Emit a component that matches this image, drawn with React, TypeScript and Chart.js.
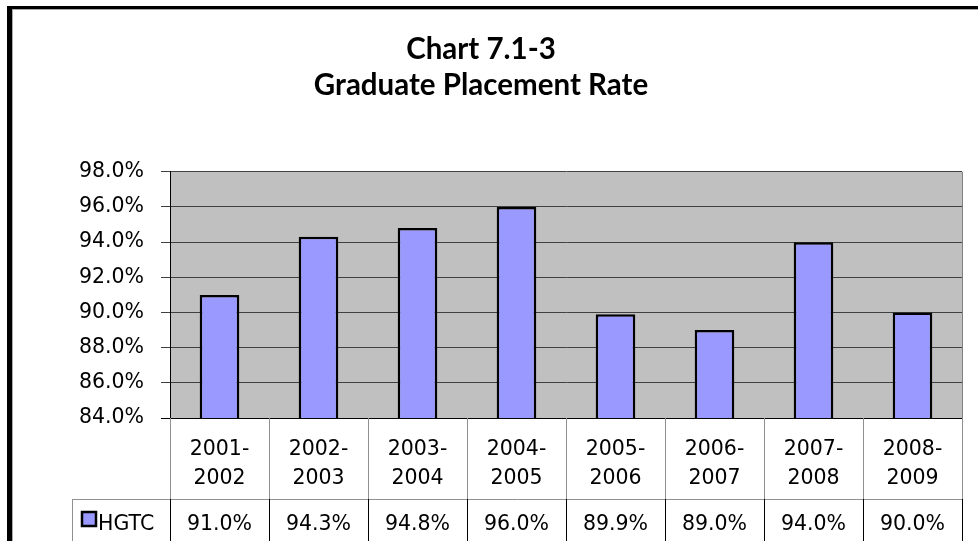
import React, { useEffect, useRef } from 'react';
import { Chart, registerables } from 'chart.js';

Chart.register(...registerables);

// ---- data ----
const titleLines = ['Chart 7.1-3', 'Graduate Placement Rate'];
const categories = ['2001-2002', '2002-2003', '2003-2004', '2004-2005', '2005-2006', '2006-2007', '2007-2008', '2008-2009'];
const seriesName = 'HGTC';
const placementRate = [91.0, 94.3, 94.8, 96.0, 89.9, 89.0, 94.0, 90.0];
const yMin = 84;
const yMax = 98;
const yStep = 2;

// ---- style ----
const BAR_FILL = '#9999FF';
const PLOT_BG = '#C0C0C0';
const FONT = '"DejaVu Sans", Verdana, sans-serif';
const FONT_SIZE = 20.5;

const fmtPct = (v: number) => v.toFixed(1) + '%';

const splitLabel = (s: string): string[] => {
  const i = s.indexOf('-');
  return i < 0 ? [s] : [s.slice(0, i + 1), s.slice(i + 1)];
};

const tablePlugin = {
  id: 'excelTable',
  beforeDraw(chart: any) {
    const { ctx, chartArea: a, width, height } = chart;
    ctx.save();
    ctx.fillStyle = '#ffffff';
    ctx.fillRect(0, 0, width, height);
    // outer frame (left and top visible)
    ctx.fillStyle = '#000000';
    ctx.fillRect(7, 6, 5, height - 6);
    ctx.fillRect(7, 6, width - 7, 3);
    ctx.fillStyle = '#a8a8a8';
    ctx.fillRect(12, 9, 1, height - 9);
    ctx.fillRect(12, 9, width - 12, 1);
    // plot area background
    ctx.fillStyle = PLOT_BG;
    ctx.fillRect(a.left, a.top, a.right - a.left, a.bottom - a.top);
    ctx.restore();
  },
  afterDraw(chart: any) {
    const { ctx, chartArea: a, height } = chart;
    const xs = chart.scales.x;
    const n = categories.length;
    const colW = (a.right - a.left) / n;
    const row1Top = a.bottom;
    const row1Bottom = a.bottom + 81;
    const legendLeft = 72;
    const px = (v: number) => Math.floor(v) + 0.5;
    const line = (x1: number, y1: number, x2: number, y2: number, c: string, w = 1) => {
      ctx.beginPath();
      ctx.strokeStyle = c;
      ctx.lineWidth = w;
      ctx.moveTo(x1, y1);
      ctx.lineTo(x2, y2);
      ctx.stroke();
    };
    ctx.save();
    // plot border right & bottom axis
    line(px(a.right), a.top, px(a.right), a.bottom, '#808080', 1);
    line(a.left - 9, px(a.bottom), a.right, px(a.bottom), '#000000', 1);

    // category row separators
    for (let i = 0; i <= n; i++) {
      const xb = px(xs.getPixelForValue(0) - colW / 2 + i * colW);
      line(xb, row1Top, xb, row1Bottom, '#909090', 1);
    }
    // horizontal line between rows
    line(legendLeft, px(row1Bottom), a.right + 1, px(row1Bottom), '#909090', 1);
    // value row separators
    for (let i = 0; i <= n; i++) {
      const xb = px(xs.getPixelForValue(0) - colW / 2 + i * colW);
      line(xb, row1Bottom, xb, height, '#000000', 1);
    }
    line(px(legendLeft), row1Bottom, px(legendLeft), height, '#909090', 1);

    // text
    ctx.fillStyle = '#000000';
    ctx.font = `${FONT_SIZE}px ${FONT}`;
    ctx.textAlign = 'center';
    ctx.textBaseline = 'alphabetic';
    categories.forEach((c, i) => {
      const cx = xs.getPixelForValue(i);
      const lines = splitLabel(c);
      lines.forEach((t, j) => ctx.fillText(t, cx, row1Top + 37 + j * 29));
      ctx.fillText(fmtPct(placementRate[i]), cx, row1Bottom + 31);
    });

    // legend key
    const kx = legendLeft + 10;
    const ky = row1Bottom + 13;
    ctx.fillStyle = BAR_FILL;
    ctx.fillRect(kx, ky, 14, 14);
    ctx.strokeStyle = '#000';
    ctx.lineWidth = 2.5;
    ctx.strokeRect(kx, ky, 14, 14);
    ctx.fillStyle = '#000';
    ctx.textAlign = 'left';
    ctx.fillText(seriesName, kx + 16, row1Bottom + 31);
    ctx.restore();
  },
};

export default function App() {
  const ref = useRef<HTMLCanvasElement | null>(null);

  useEffect(() => {
    if (!ref.current) return;
    const chart = new Chart(ref.current, {
      type: 'bar',
      data: {
        labels: categories,
        datasets: [
          {
            label: seriesName,
            data: placementRate,
            backgroundColor: BAR_FILL,
            borderColor: '#000000',
            borderWidth: 2.5,
            borderSkipped: false,
            barPercentage: 0.4,
            categoryPercentage: 1,
          },
        ],
      },
      options: {
        responsive: false,
        animation: false,
        devicePixelRatio: 1,
        layout: { padding: { left: 0, right: 16, top: 0, bottom: 123 } },
        plugins: {
          legend: { display: false },
          tooltip: { enabled: false },
          title: {
            display: true,
            text: titleLines,
            color: '#000000',
            font: { family: 'Lato', weight: 'bold', size: 29.5, lineHeight: 1.2 },
            padding: { top: 32, bottom: 69 },
          },
        },
        scales: {
          x: { display: false, offset: true },
          y: {
            min: yMin,
            max: yMax,
            ticks: {
              stepSize: yStep,
              color: '#000000',
              font: { family: FONT, size: FONT_SIZE },
              padding: 17,
              callback: (v: any) => fmtPct(Number(v)),
            },
            grid: { color: '#404040', lineWidth: 1, tickLength: 9, tickColor: '#404040' },
            border: { color: '#000000', width: 1 },
            afterFit: (s: any) => {
              s.width = 170;
            },
          },
        },
      } as any,
      plugins: [tablePlugin],
    });
    return () => chart.destroy();
  }, []);

  return (
    <div style={{ position: 'absolute', left: 0, top: 0, width: 978, height: 541 }}>
      <canvas ref={ref} width={978} height={541} />
    </div>
  );
}
